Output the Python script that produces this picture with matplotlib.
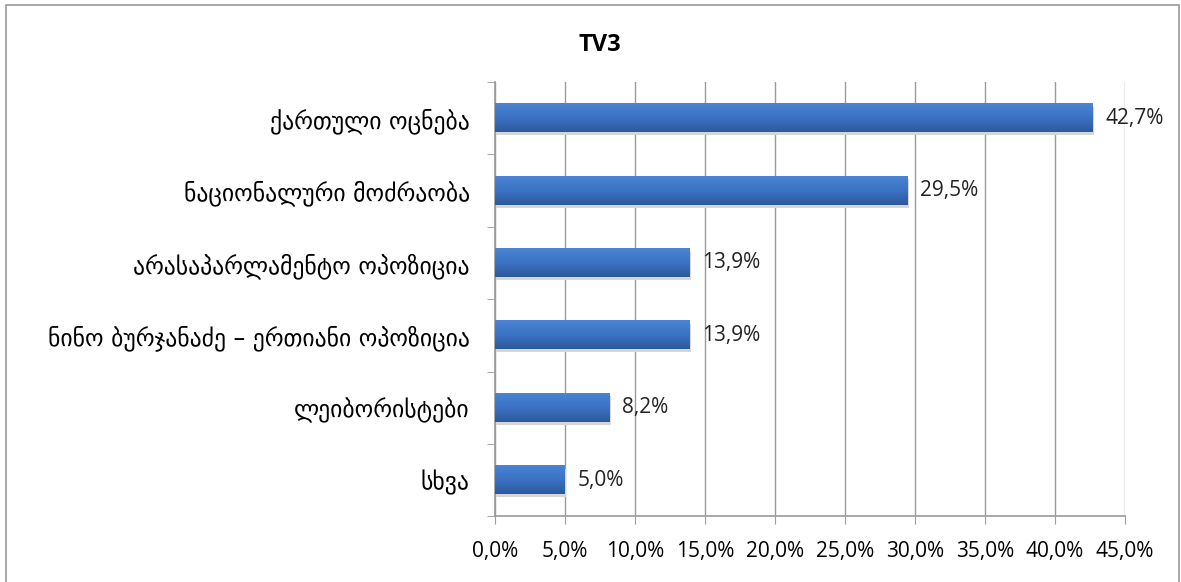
import matplotlib
matplotlib.use("Agg")
import matplotlib.pyplot as plt
import numpy as np
from matplotlib.colors import LinearSegmentedColormap
from matplotlib.patches import Rectangle

title = "TV3"
parties = [
    "ქართული ოცნება",
    "ნაციონალური მოძრაობა",
    "არასაპარლამენტო ოპოზიცია",
    "ნინო ბურჯანაძე – ერთიანი ოპოზიცია",
    "ლეიბორისტები",
    "სხვა",
]
shares = [42.7, 29.5, 13.9, 13.9, 8.2, 5.0]
xticks = [0, 5, 10, 15, 20, 25, 30, 35, 40, 45]


def pct(v):
    return f"{v:.1f}".replace(".", ",") + "%"


fig = plt.figure(figsize=(11.81, 5.82), dpi=100)
ax = fig.add_axes([0.419, 0.113, 0.5334, 0.746])

# outer frame of the chart object
fig.patches.append(Rectangle((0.005, -0.05), 0.993, 1.041, transform=fig.transFigure,
                             fill=False, edgecolor="#9a9a9a", linewidth=1.2))

y = np.arange(len(parties))
bars = ax.barh(y, shares, height=0.39, color="#3a6dbd", zorder=3)

# vertical gradient on each bar, lighter on top
grad = LinearSegmentedColormap.from_list("bar", ["#4a84d3", "#3c72c4", "#2c5a9c"])
for b in bars:
    x0, y0, w, h = b.get_x(), b.get_y(), b.get_width(), b.get_height()
    ax.add_patch(Rectangle((x0 + 0.08, y0 + 0.04), w, h, color="#d6d6d6", zorder=2, lw=0))
    ax.imshow(np.linspace(0, 1, 50).reshape(-1, 1), cmap=grad, aspect="auto",
              extent=(x0, x0 + w, y0 + h, y0), zorder=3.5, interpolation="bicubic")

for v, yy in zip(shares, y):
    ax.text(v + 0.9, yy, pct(v), va="center", ha="left", fontsize=15,
            family=["Open Sans", "DejaVu Sans"], color="#222222")

ax.set_xlim(0, 45)
ax.set_ylim(len(parties) - 0.5, -0.5)
ax.set_xticks(xticks)
ax.set_xticklabels([pct(t) for t in xticks], fontsize=15, family=["Open Sans", "DejaVu Sans"])
ax.set_yticks(y)
ax.set_yticklabels(parties, fontsize=17, family=["DejaVu Sans"])
ax.set_yticks(np.arange(-0.5, len(parties), 1), minor=True)
ax.tick_params(axis="y", which="major", length=0, pad=18)
ax.tick_params(axis="y", which="minor", length=6, color="#9a9a9a", direction="out")
ax.tick_params(axis="x", length=6, color="#9a9a9a", pad=12, direction="out")
ax.grid(axis="x", color="#9a9a9a", linewidth=1.0, zorder=0)
ax.set_axisbelow(True)
for side in ("top", "right"):
    ax.spines[side].set_visible(False)
for side in ("left", "bottom"):
    ax.spines[side].set_color("#9a9a9a")
    ax.spines[side].set_linewidth(1.2)

fig.text(0.508, 0.923, title, ha="center", va="center", fontsize=17, fontweight="bold",
         family=["Open Sans", "DejaVu Sans"])

fig.savefig("out.png", dpi=100)
